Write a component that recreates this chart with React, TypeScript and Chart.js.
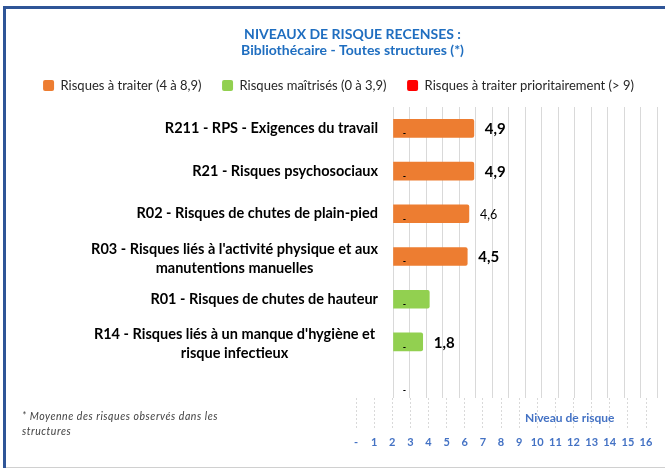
import { useEffect, useRef } from "react";
import { Chart, registerables } from "chart.js";
Chart.register(...registerables);

const titleLines = ["NIVEAUX DE RISQUE RECENSES :", "Bibliothécaire - Toutes structures (*)"];
const categories: (string | string[])[] = [
  "R211 - RPS - Exigences du travail",
  "R21 - Risques psychosociaux",
  "R02 - Risques de chutes de plain-pied",
  ["R03 - Risques liés à l'activité physique et aux", "manutentions manuelles"],
  "R01 - Risques de chutes de hauteur",
  ["R14 - Risques liés à un manque d'hygiène et", "risque infectieux"],
  "",
];
const riskValues: (number | null)[] = [4.9, 4.9, 4.6, 4.5, 2.2, 1.8, null];
const valueLabels = ["4,9", "4,9", "4,6", "4,5", "", "1,8", ""];
const legendNames = [
  "Risques à traiter (4 à 8,9)",
  "Risques maîtrisés (0 à 3,9)",
  "Risques à traiter prioritairement (> 9)",
];
const bottomTicks = ["-", "1", "2", "3", "4", "5", "6", "7", "8", "9", "10", "11", "12", "13", "14", "15", "16"];
const footnoteText = "* Moyenne des risques observés dans les structures";
const axisTitleText = "Niveau de risque";

const COLORS = ["#ED7D31", "#92D050", "#FF0000"];
const FONT = "Lato";
const TICK_SIZE = 14.5;
const TICK_LINE = 19;
const TICK_PAD = 15;
const labelStyle = [
  { size: 15, weight: "bold" },
  { size: 15, weight: "bold" },
  { size: 12.5, weight: "normal" },
  { size: 15, weight: "bold" },
  { size: 15, weight: "bold" },
  { size: 15, weight: "bold" },
  { size: 15, weight: "bold" },
];

// single-line category names go through the axis ticks; multi-line ones are
// drawn centred line by line (as in the original), at the same scale positions
const mainLabels = categories.map((c) => (Array.isArray(c) ? "" : c));

const orangeData = riskValues.map((v) => (v != null && v >= 4 && v < 9 ? v : null));
const greenData = riskValues.map((v) => (v != null && v < 4 ? v : null));
const redData = riskValues.map((v) => (v != null && v >= 9 ? v : null));

const valueLabelPlugin = {
  id: "valueLabels",
  afterDatasetsDraw(chart: any) {
    const ctx = chart.ctx;
    const xs = chart.scales.x;
    const ys = chart.scales.y;
    ctx.save();
    riskValues.forEach((v, i) => {
      const py = ys.getPixelForValue(i);
      ctx.fillStyle = "#000";
      ctx.font = `bold 9px ${FONT}`;
      ctx.textAlign = "center";
      ctx.textBaseline = "middle";
      ctx.fillText("-", xs.getPixelForValue(0.7), py + 5);
      if (v != null && valueLabels[i]) {
        const st = labelStyle[i];
        ctx.font = `${st.weight} ${st.size}px ${FONT}`;
        ctx.textAlign = "left";
        ctx.fillText(valueLabels[i], xs.getPixelForValue(v) + 11, py + 1);
      }
    });
    ctx.restore();
  },
};

const multiLineLabelPlugin = {
  id: "multiLineLabels",
  afterDraw(chart: any) {
    const ctx = chart.ctx;
    const ys = chart.scales.y;
    ctx.save();
    ctx.font = `bold ${TICK_SIZE}px ${FONT}`;
    ctx.fillStyle = "#000";
    ctx.textAlign = "center";
    ctx.textBaseline = "middle";
    let widest = 0;
    categories.forEach((c) => {
      if (Array.isArray(c)) c.forEach((l) => (widest = Math.max(widest, ctx.measureText(l).width)));
    });
    const cx = chart.chartArea.left - TICK_PAD - widest / 2;
    categories.forEach((c, i) => {
      if (!Array.isArray(c)) return;
      const py = ys.getPixelForValue(i) + 2;
      c.forEach((line, j) => {
        ctx.fillText(line, cx, py + (j - (c.length - 1) / 2) * TICK_LINE);
      });
    });
    ctx.restore();
  },
};

// the original title sits a little right of the legend's centre
const titleShiftPlugin = {
  id: "titleShift",
  afterLayout(chart: any) {
    const t = chart.titleBlock;
    if (t) t.left += 28;
  },
};

export default function App() {
  const mainRef = useRef<HTMLCanvasElement>(null);
  const axisRef = useRef<HTMLCanvasElement>(null);

  useEffect(() => {
    const tickFont = { family: FONT, size: TICK_SIZE, weight: "bold" as const, lineHeight: 1.31 };
    const main = new Chart(mainRef.current!, {
      type: "bar",
      data: {
        labels: mainLabels,
        datasets: [
          { label: legendNames[0], data: orangeData, backgroundColor: COLORS[0], borderWidth: 0, borderRadius: 2, barThickness: 18 },
          { label: legendNames[1], data: greenData, backgroundColor: COLORS[1], borderWidth: 0, borderRadius: 2, barThickness: 18 },
          { label: legendNames[2], data: redData, backgroundColor: COLORS[2], borderWidth: 0, borderRadius: 2, barThickness: 18 },
        ],
      },
      options: {
        indexAxis: "y",
        responsive: false,
        animation: false,
        layout: { padding: { left: 20, right: 8, top: 0, bottom: 4 } },
        plugins: {
          title: {
            display: true,
            text: titleLines,
            color: "#1F6EC0",
            font: { family: FONT, size: 14, weight: "bold", lineHeight: 1.1 },
            padding: { top: 27, bottom: 0.7 },
          },
          legend: {
            position: "top",
            labels: {
              boxWidth: 11,
              boxHeight: 11,
              padding: 20.5,
              color: "#262626",
              font: { family: FONT, size: 13 },
              useBorderRadius: true,
              borderRadius: 2,
            },
          },
          tooltip: { enabled: false },
        },
        scales: {
          x: {
            type: "linear",
            position: "top",
            min: 0,
            max: 16,
            stacked: true,
            ticks: { display: false, stepSize: 1 },
            grid: { color: "#D9D9D9", drawTicks: false },
            border: { display: false },
            afterFit: (s: any) => {
              s.height = 5;
              s.paddingLeft = 0;
              s.paddingRight = 0;
            },
          },
          y: {
            type: "category",
            stacked: true,
            ticks: { color: "#000", padding: TICK_PAD, font: tickFont },
            grid: { display: false, drawTicks: false },
            border: { display: false },
            afterFit: (s: any) => {
              s.width = 373;
              s.paddingTop = 0;
              s.paddingBottom = 0;
            },
          },
        } as any,
      },
      plugins: [valueLabelPlugin, multiLineLabelPlugin, titleShiftPlugin],
    });

    const axis = new Chart(axisRef.current!, {
      type: "scatter",
      data: { datasets: [] },
      options: {
        responsive: false,
        animation: false,
        layout: { padding: { left: 16, right: 19, top: 0, bottom: 0 } },
        plugins: { legend: { display: false }, tooltip: { enabled: false }, title: { display: false } },
        scales: {
          x: {
            type: "linear",
            min: 0,
            max: 16,
            ticks: {
              stepSize: 1,
              padding: 8,
              color: "#4472C4",
              font: { family: FONT, size: 11, weight: "bold" },
              callback: (v: any) => bottomTicks[v as number] ?? "",
              maxRotation: 0,
              autoSkip: false,
            },
            grid: { color: "#D9D9D9", drawTicks: false },
            border: { display: false, dash: [2, 2] },
            afterFit: (s: any) => {
              s.height = 42;
            },
          },
          y: { display: false, min: 0, max: 1 },
        } as any,
      },
    });

    return () => {
      main.destroy();
      axis.destroy();
    };
  }, []);

  return (
    <div style={{ position: "fixed", left: 0, top: 0, width: 665, height: 470, background: "#fff", overflow: "hidden" }}>
      <canvas ref={mainRef} width={665} height={410} style={{ position: "absolute", left: 0, top: 0, width: 665, height: 410 }} />
      <canvas ref={axisRef} width={325} height={72} style={{ position: "absolute", left: 340, top: 398, width: 325, height: 72, background: "#fff" }} />
      <div
        style={{
          position: "absolute",
          left: 525,
          top: 410,
          fontFamily: FONT,
          fontWeight: "bold",
          fontSize: 12,
          color: "#4472C4",
          whiteSpace: "nowrap",
        }}
      >
        {axisTitleText}
      </div>
      <div
        style={{
          position: "absolute",
          left: 22,
          top: 409,
          width: 215,
          fontFamily: FONT,
          fontStyle: "italic",
          fontSize: 10.5,
          letterSpacing: "0.55px",
          lineHeight: "15px",
          color: "#404040",
        }}
      >
        {footnoteText}
      </div>
      <div style={{ position: "absolute", left: 3, top: 6, width: 662, height: 3, background: "#2F5597" }} />
      <div style={{ position: "absolute", left: 3, top: 6, width: 3, height: 462, background: "#2F5597" }} />
      <div style={{ position: "absolute", left: 6, top: 467, width: 659, height: 1, background: "#D0D0D0" }} />
    </div>
  );
}
